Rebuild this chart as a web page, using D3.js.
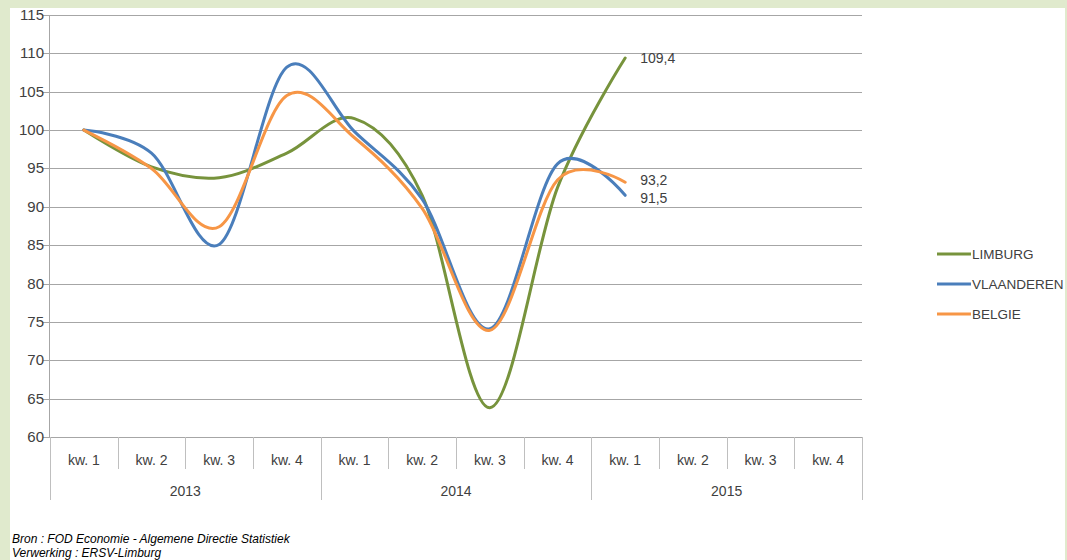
<!DOCTYPE html>
<html>
<head>
<meta charset="utf-8">
<script src="https://cdn.jsdelivr.net/npm/d3@7"></script>
<style>
  body { margin: 0; background: #fff; }
  svg { display: block; }
  text { font-family: "Liberation Sans", Arial, sans-serif; fill: #404040; }
</style>
</head>
<body>
<div id="chart"></div>
<script>
// data
var years = ["2013", "2014", "2015"];
var quarters = ["kw. 1", "kw. 2", "kw. 3", "kw. 4"];
var yTicks = [60, 65, 70, 75, 80, 85, 90, 95, 100, 105, 110, 115];
var limburg    = [100, 95.2, 93.8, 97.0, 101.5, 91.5, 63.8, 92.5, 109.4];
var vlaanderen = [100, 97.0, 85.1, 108.2, 99.8, 91.0, 74.1, 95.6, 91.5];
var belgie     = [100, 95.0, 87.4, 104.5, 99.0, 89.8, 73.9, 93.5, 93.2];
var seriesNames = ["LIMBURG", "VLAANDEREN", "BELGIE"];
var endLabels = ["109,4", "91,5", "93,2"];

var colors = ["#77933c", "#4a7ebb", "#f79646"];
var series = [limburg, vlaanderen, belgie];
var labelShift = [0, 3, -2];

var width = 1067, height = 560;
var margin = {top: 15, left: 50, right: 205, bottom: 123};
var plotW = width - margin.left - margin.right;

var svg = d3.select("#chart").append("svg")
    .attr("width", width)
    .attr("height", height);

// green frame
svg.append("rect").attr("x", 0).attr("y", 0).attr("width", width).attr("height", height).attr("fill", "#e0eacd");
svg.append("rect").attr("x", 10).attr("y", 8).attr("width", 1055).attr("height", height - 8).attr("fill", "#fff");

var cats = [];
years.forEach(function(yr) {
  quarters.forEach(function(q) { cats.push(yr + "|" + q); });
});

var x = d3.scaleBand().domain(cats).range([margin.left, margin.left + plotW]);
var y = d3.scaleLinear().domain([60, 115]).range([437, 15]);

// grid
svg.append("g").selectAll("line")
  .data(yTicks)
  .enter().append("line")
  .attr("x1", margin.left - 7)
  .attr("x2", margin.left + plotW)
  .attr("y1", function(d) { return Math.round(y(d)) + 0.5; })
  .attr("y2", function(d) { return Math.round(y(d)) + 0.5; })
  .attr("stroke", "#a6a6a6")
  .attr("stroke-width", 1);

svg.append("line")
  .attr("x1", margin.left - 0.5).attr("x2", margin.left - 0.5)
  .attr("y1", y(115)).attr("y2", y(60))
  .attr("stroke", "#a6a6a6");

svg.append("g").selectAll("text")
  .data(yTicks)
  .enter().append("text")
  .attr("x", 44)
  .attr("y", function(d) { return y(d) + 5; })
  .attr("text-anchor", "end")
  .style("font-size", "15px")
  .text(function(d) { return d; });

// x axis: quarter separators and labels
var base = y(60);
svg.append("g").selectAll("line")
  .data(cats)
  .enter().append("line")
  .attr("x1", function(d) { return Math.round(x(d)) + 0.5; })
  .attr("x2", function(d) { return Math.round(x(d)) + 0.5; })
  .attr("y1", base)
  .attr("y2", function(d, i) { return i % 4 === 0 ? base + 63 : base + 32; })
  .attr("stroke", "#bfbfbf");

svg.append("line")
  .attr("x1", margin.left + plotW + 0.5).attr("x2", margin.left + plotW + 0.5)
  .attr("y1", base).attr("y2", base + 63)
  .attr("stroke", "#bfbfbf");

svg.append("g").selectAll("text")
  .data(cats)
  .enter().append("text")
  .attr("x", function(d) { return x(d) + x.bandwidth() / 2; })
  .attr("y", base + 28)
  .attr("text-anchor", "middle")
  .style("font-size", "14px")
  .text(function(d) { return d.split("|")[1]; });

svg.append("g").selectAll("text")
  .data(years)
  .enter().append("text")
  .attr("x", function(d) { return x(d + "|kw. 1") + x.bandwidth() * 2; })
  .attr("y", base + 59)
  .attr("text-anchor", "middle")
  .style("font-size", "14px")
  .text(function(d) { return d; });

// lines
var line = d3.line()
  .x(function(d, i) { return x(cats[i]) + x.bandwidth() / 2; })
  .y(function(d) { return y(d); })
  .curve(d3.curveCardinal.tension(0));

series.forEach(function(s, k) {
  svg.append("path")
    .datum(s)
    .attr("d", line)
    .attr("fill", "none")
    .attr("stroke", colors[k])
    .attr("stroke-width", 3)
    .attr("stroke-linecap", "round");

  var last = s.length - 1;
  svg.append("text")
    .attr("x", x(cats[last]) + x.bandwidth() / 2 + 15)
    .attr("y", y(s[last]) + 5 + labelShift[k])
    .style("font-size", "14px")
    .text(endLabels[k]);
});

// legend
var legend = svg.append("g").selectAll("g")
  .data(seriesNames)
  .enter().append("g")
  .attr("transform", function(d, i) { return "translate(937," + (254 + i * 30) + ")"; });

legend.append("line")
  .attr("x1", 0).attr("x2", 34)
  .attr("stroke", function(d, i) { return colors[i]; })
  .attr("stroke-width", 3);

legend.append("text")
  .attr("x", 35).attr("y", 5)
  .style("font-size", "13.5px")
  .text(function(d) { return d; });

// source
svg.append("text")
  .attr("x", 12).attr("y", 543)
  .style("font-size", "12px").style("font-style", "italic").style("fill", "#000")
  .text("Bron : FOD Economie - Algemene Directie Statistiek");
svg.append("text")
  .attr("x", 12).attr("y", 557)
  .style("font-size", "12px").style("font-style", "italic").style("fill", "#000")
  .text("Verwerking : ERSV-Limburg");
</script>
</body>
</html>
